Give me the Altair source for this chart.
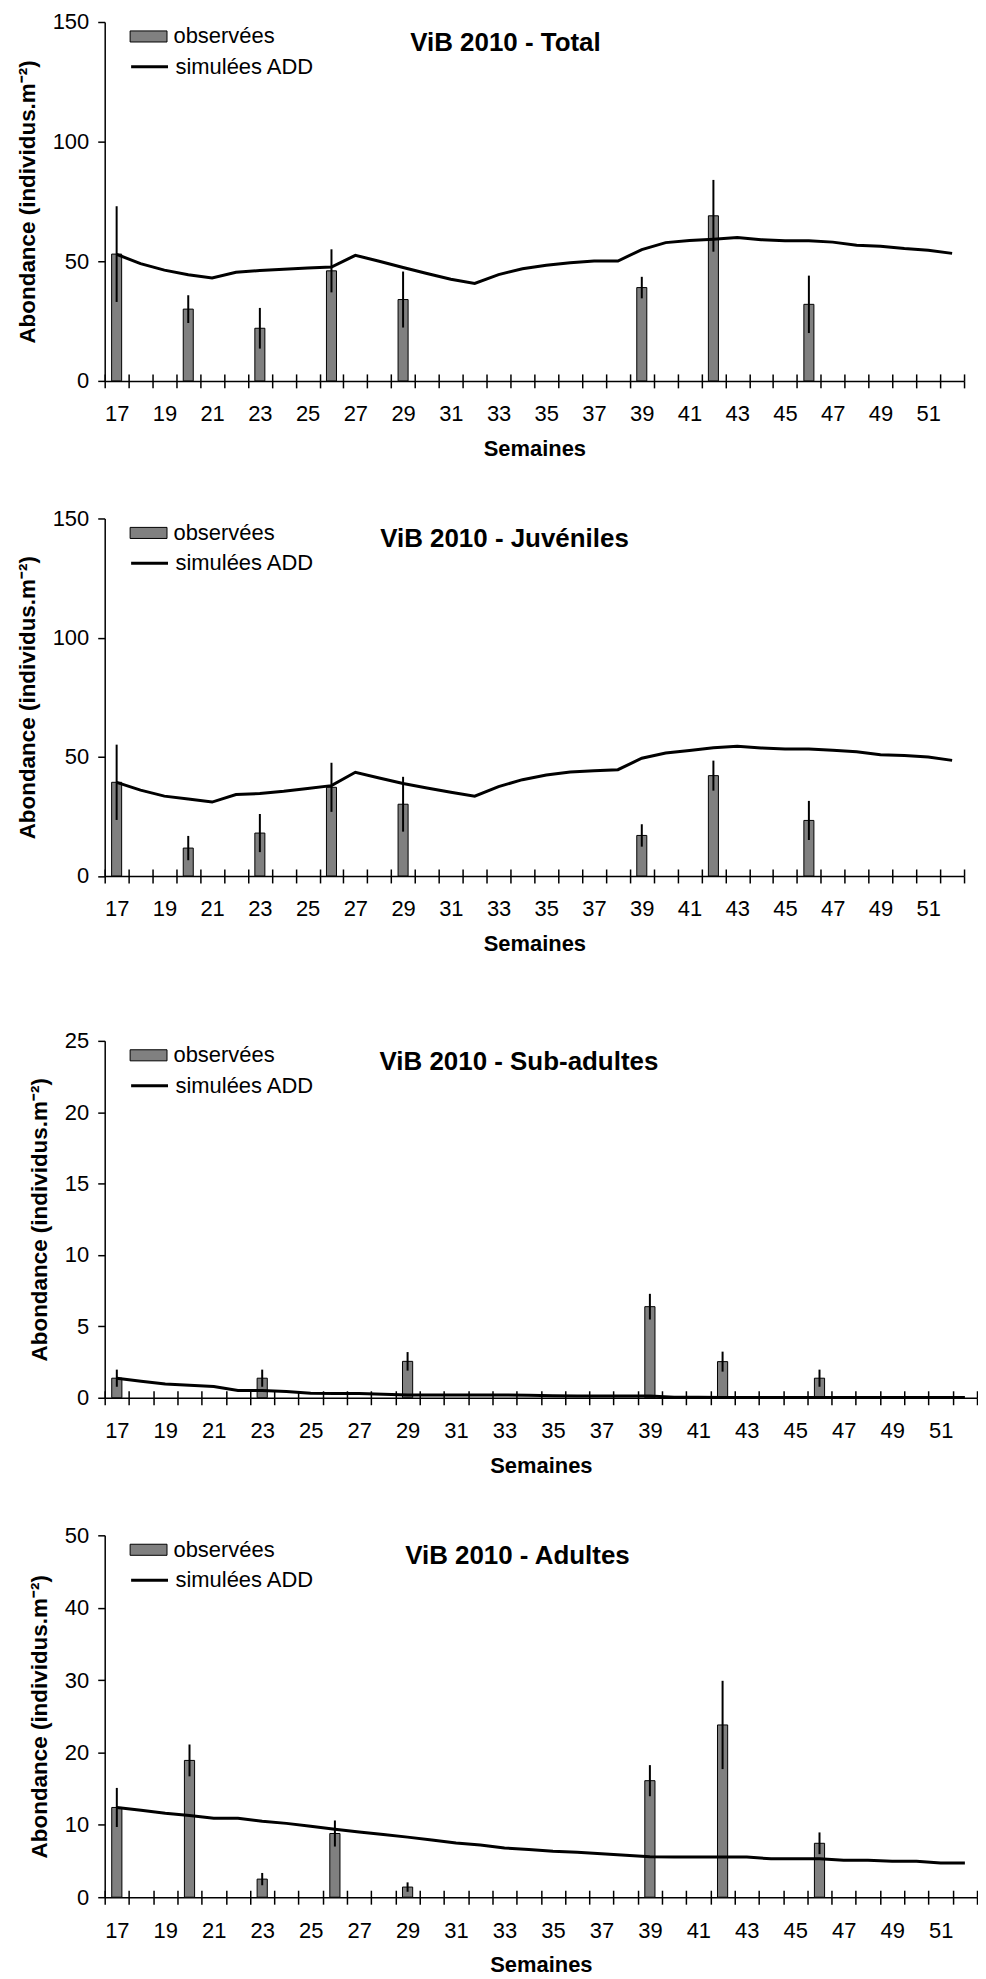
import altair as alt
import pandas as pd

FONT = "Liberation Sans"

WEEKS = list(range(17, 53))

TITLES = ["ViB 2010 - Total", "ViB 2010 - Juvéniles", "ViB 2010 - Sub-adultes", "ViB 2010 - Adultes"]
Y_TITLE = "Abondance (individus.m⁻²)"
X_TITLE = "Semaines"
LEG_OBS = "observées"
LEG_SIM = "simulées ADD"

# --- Total
OBS_WEEKS_TOTAL = [17, 20, 23, 26, 29, 39, 42, 46]
OBS_TOTAL = [53.0, 30.0, 22.0, 46.0, 34.0, 39.0, 69.0, 32.0]
ERR_TOTAL = [20.0, 5.8, 8.5, 9.0, 11.7, 4.5, 15.0, 12.0]
SIM_TOTAL = [52.9, 49.0, 46.3, 44.4, 43.0, 45.4, 46.1, 46.7, 47.2, 47.6, 52.5, 50.0,
             47.4, 44.9, 42.5, 40.7, 44.4, 46.9, 48.3, 49.4, 50.1, 50.1, 54.9, 57.8,
             58.7, 59.2, 59.9, 59.0, 58.6, 58.6, 58.0, 56.7, 56.3, 55.3, 54.6, 53.3]

# --- Juvéniles
OBS_WEEKS_JUV = [17, 20, 23, 26, 29, 39, 42, 46]
OBS_JUV = [39.3, 11.7, 18.0, 37.2, 30.1, 17.0, 42.1, 23.3]
ERR_JUV = [15.8, 5.1, 8.0, 10.3, 11.5, 4.7, 6.3, 8.2]
SIM_JUV = [39.3, 36.0, 33.5, 32.3, 31.0, 34.2, 34.6, 35.5, 36.7, 37.9, 43.5, 41.1,
           38.8, 36.9, 35.1, 33.5, 37.5, 40.4, 42.4, 43.6, 44.1, 44.6, 49.4, 51.6,
           52.6, 53.8, 54.4, 53.7, 53.3, 53.3, 52.7, 52.1, 50.9, 50.5, 49.9, 48.5]

# --- Sub-adultes
OBS_WEEKS_SUB = [17, 23, 29, 39, 42, 46]
OBS_SUB = [1.37, 1.37, 2.55, 6.38, 2.53, 1.37]
ERR_SUB = [0.6, 0.6, 0.65, 0.9, 0.7, 0.6]
SIM_SUB = [1.37, 1.16, 0.97, 0.88, 0.79, 0.51, 0.50, 0.44, 0.32, 0.30, 0.30, 0.25,
           0.20, 0.20, 0.20, 0.20, 0.20, 0.18, 0.14, 0.12, 0.12, 0.12, 0.12, 0.04,
           0.03, 0.02, 0.02, 0.02, 0.02, 0.02, 0.02, 0.02, 0.02, 0.02, 0.02, 0.02]

# --- Adultes
OBS_WEEKS_AD = [17, 20, 23, 26, 29, 39, 42, 46]
OBS_AD = [12.4, 18.9, 2.5, 8.8, 1.4, 16.1, 23.8, 7.45]
ERR_AD = [2.7, 2.2, 0.85, 1.8, 0.65, 2.15, 6.1, 1.5]
SIM_AD = [12.4, 12.0, 11.6, 11.3, 10.9, 10.9, 10.5, 10.2, 9.8, 9.4, 9.0, 8.65,
          8.3, 7.9, 7.5, 7.2, 6.8, 6.6, 6.35, 6.2, 6.0, 5.8, 5.6, 5.55,
          5.55, 5.55, 5.55, 5.3, 5.3, 5.3, 5.1, 5.1, 4.97, 4.97, 4.74, 4.74]

Y_TICKS_TOTAL = [0, 50, 100, 150]
Y_TICKS_JUV = [0, 50, 100, 150]
Y_TICKS_SUB = [0, 5, 10, 15, 20, 25]
Y_TICKS_AD = [0, 10, 20, 30, 40, 50]


def panel(title, obs_weeks, obs, err, sim, y_ticks, width, height, dx,
          title_offset=-66, spacer_pad=None):
    obs_df = pd.DataFrame({
        "semaine": obs_weeks,
        "val": obs,
        "lo": [v - e for v, e in zip(obs, err)],
        "hi": [v + e for v, e in zip(obs, err)],
        "serie": LEG_OBS,
    })
    sim_df = pd.DataFrame({"semaine": WEEKS, "sim": sim, "serie": LEG_SIM})

    xscale = alt.Scale(domain=WEEKS, paddingInner=0, paddingOuter=0)
    yscale = alt.Scale(domain=[y_ticks[0], y_ticks[-1]], nice=False)
    yaxis = alt.Axis(values=y_ticks, title=Y_TITLE, tickSize=7, labelPadding=9,
                     titlePadding=13, titleFontSize=22.5, grid=False)

    main_x = alt.Axis(tickBand="extent", tickSize=7, labelPadding=16, labelAngle=0,
                      labelOverlap=False,
                      labelExpr="datum.value % 2 == 1 ? datum.label : ''",
                      title=X_TITLE, titlePadding=14, grid=False)
    helper_kw = dict(tickBand="extent", tickSize=7, offset=-7, orient="bottom",
                     labels=False, domain=False, grid=False)
    if spacer_pad is not None:
        helper_kw.update(title=".", titleOpacity=0, titleFontSize=10, titlePadding=spacer_pad)
    else:
        helper_kw.update(title=None)
    helper_x = alt.Axis(**helper_kw)

    bars = alt.Chart(obs_df).mark_bar(
        width=alt.RelativeBandSize(0.42), stroke="black", strokeWidth=1
    ).encode(
        x=alt.X("semaine:O", scale=xscale, axis=main_x),
        y=alt.Y("val:Q", scale=yscale, axis=yaxis),
        fill=alt.Fill("serie:N",
                      scale=alt.Scale(domain=[LEG_OBS], range=["#808080"]),
                      legend=alt.Legend(orient="none", legendX=25, legendY=-4.5,
                                        title=None, padding=0,
                                        symbolType="M-1,-0.3H1V0.3H-1Z",
                                        symbolSize=1369, symbolStrokeColor="black",
                                        symbolStrokeWidth=1, symbolOpacity=1,
                                        labelFont=FONT, labelFontSize=22,
                                        labelColor="black", labelOffset=6)),
    )
    errs = alt.Chart(obs_df).mark_rule(color="black", strokeWidth=2).encode(
        x=alt.X("semaine:O", scale=xscale, axis=None),
        y=alt.Y("lo:Q", scale=yscale, axis=yaxis),
        y2="hi:Q",
    )
    line = alt.Chart(sim_df).mark_line(strokeWidth=3).encode(
        x=alt.X("semaine:O", scale=xscale, axis=helper_x),
        y=alt.Y("sim:Q", scale=yscale, axis=yaxis),
        stroke=alt.Stroke("serie:N",
                          scale=alt.Scale(domain=[LEG_SIM], range=["black"]),
                          legend=alt.Legend(orient="none", legendX=25, legendY=25,
                                            title=None, padding=0,
                                            symbolType="stroke", symbolSize=1369,
                                            symbolStrokeWidth=3,
                                            labelFont=FONT, labelFontSize=22,
                                            labelColor="black", labelOffset=6)),
    )
    return alt.layer(bars, errs, line).resolve_axis(x="independent").properties(
        width=width, height=height,
        title=alt.TitleParams(text=title, anchor="middle", frame="group",
                              offset=title_offset, baseline="alphabetic", dx=dx,
                              font=FONT, fontSize=26, fontWeight="bold",
                              color="black"),
    )


p1 = panel(TITLES[0], OBS_WEEKS_TOTAL, OBS_TOTAL, ERR_TOTAL, SIM_TOTAL,
           Y_TICKS_TOTAL, 862, 360, -29)
p2 = panel(TITLES[1], OBS_WEEKS_JUV, OBS_JUV, ERR_JUV, SIM_JUV,
           Y_TICKS_JUV, 862, 358.6, -30, spacer_pad=95)
p3 = panel(TITLES[2], OBS_WEEKS_SUB, OBS_SUB, ERR_SUB, SIM_SUB,
           Y_TICKS_SUB, 875, 358, -22)
p4 = panel(TITLES[3], OBS_WEEKS_AD, OBS_AD, ERR_AD, SIM_AD,
           Y_TICKS_AD, 875, 363, -23.5)

chart = alt.vconcat(p1, p2, p3, p4, spacing=48).resolve_scale(
    fill="independent", stroke="independent"
).properties(
    padding={"left": 8, "top": 0, "right": 0, "bottom": 0},
    background="white",
).configure_view(stroke=None).configure_axis(
    domainColor="black", domainWidth=1.5, tickColor="black", tickWidth=1.5,
    labelColor="black", labelFont=FONT, labelFontSize=22,
    titleColor="black", titleFont=FONT, titleFontSize=22, titleFontWeight="bold",
)

chart.save("out.html", embed_options={"renderer": "svg", "actions": False})
